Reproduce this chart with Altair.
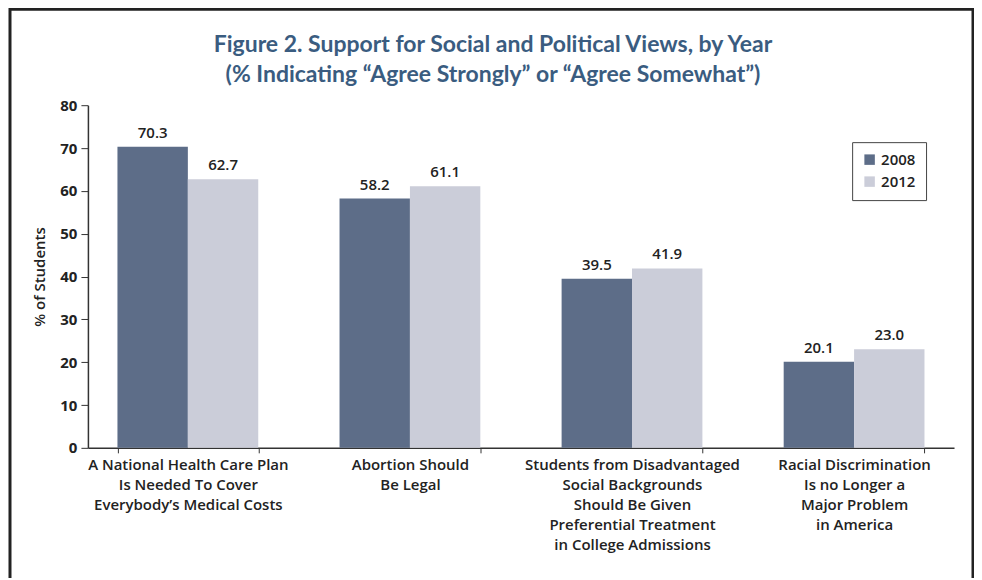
import altair as alt
import pandas as pd

categories = [
    "A National Health Care Plan|Is Needed To Cover|Everybody\u2019s Medical Costs",
    "Abortion Should|Be Legal",
    "Students from Disadvantaged|Social Backgrounds|Should Be Given|Preferential Treatment|in College Admissions",
    "Racial Discrimination|Is no Longer a|Major Problem|in America",
]
years = ["2008", "2012"]
values_2008 = [70.3, 58.2, 39.5, 20.1]
values_2012 = [62.7, 61.1, 41.9, 23.0]
y_ticks = [0, 10, 20, 30, 40, 50, 60, 70, 80]

rows = []
for c, a, b in zip(categories, values_2008, values_2012):
    rows.append({"cat": c, "year": "2008", "value": a})
    rows.append({"cat": c, "year": "2012", "value": b})
df = pd.DataFrame(rows)

FONT = "Open Sans"
WEIGHT = 600
TITLE_FONT = "Lato"
DARK = "#5d6d88"
LIGHT = "#cbcdd9"
AXIS = "#333333"
TXT = "#222222"

x_enc = alt.X(
    "cat:N",
    sort=categories,
    scale=alt.Scale(paddingInner=0.366, paddingOuter=0.133),
    axis=alt.Axis(
        title=None,
        labelAngle=0,
        labelExpr="split(datum.label, '|')",
        labelFont=FONT,
        labelFontSize=15,
        labelFontWeight=WEIGHT,
        labelColor=TXT,
        labelLineHeight=20,
        labelPadding=5,
        labelBaseline="top",
        tickBand="extent",
        tickSize=5,
        tickColor=AXIS,
        domainColor=AXIS,
        domainWidth=1.5,
        labelLimit=400,
    ),
)
y_enc = alt.Y(
    "value:Q",
    scale=alt.Scale(domain=[0, 80], nice=False),
    axis=alt.Axis(
        title="% of Students",
        values=y_ticks,
        titleFont=FONT,
        titleFontSize=15,
        titleFontWeight=WEIGHT,
        titleColor=TXT,
        titlePadding=12,
        labelFont=FONT,
        labelFontSize=15,
        labelFontWeight="bold",
        labelColor=TXT,
        labelPadding=4,
        tickSize=7,
        tickColor=AXIS,
        domainColor=AXIS,
        domainWidth=1.5,
        grid=False,
    ),
)

base = alt.Chart(df).encode(x=x_enc, xOffset=alt.XOffset("year:N", sort=years))

bars = base.mark_bar().encode(
    y=y_enc,
    color=alt.Color(
        "year:N",
        scale=alt.Scale(domain=years, range=[DARK, LIGHT]),
        legend=alt.Legend(
            title=None,
            orient="none",
            legendX=765,
            legendY=37,
            strokeColor="#444444",
            padding=10,
            symbolType="square",
            symbolSize=110,
            symbolStrokeWidth=0,
            labelFont=FONT,
            labelFontSize=15,
            labelFontWeight=WEIGHT,
            labelColor=TXT,
            rowPadding=6,
            fillColor="white",
        ),
    ),
)

labels = base.mark_text(
    baseline="bottom", dy=-6, font=FONT, fontSize=15, fontWeight=WEIGHT, color=TXT
).encode(y="value:Q", text=alt.Text("value:Q", format=".1f"))

frame = alt.Chart(alt.Data(values=[{}])).mark_rect(
    fill=None, stroke="#222222", strokeWidth=3
).encode(
    x=alt.value(-78), x2=alt.value(886), y=alt.value(-96), y2=alt.value(520)
)

chart = alt.layer(frame, bars, labels).properties(
    width=867,
    height=343,
    padding={"left": 80, "top": 97, "right": 20, "bottom": 130},
    autosize=alt.AutoSizeParams(type="none"),
    title=alt.TitleParams(
        text=["Figure 2. Support for Social and Political Views, by Year",
              "(% Indicating \u201cAgree Strongly\u201d or \u201cAgree Somewhat\u201d)"],
        font=TITLE_FONT,
        fontSize=23,
        fontWeight="bold",
        color="#3a5c80",
        lineHeight=30,
        anchor="middle",
        dx=-28,
        offset=-79,
    ),
).configure_view(stroke=None)

chart.save("out.html", embed_options={"renderer": "svg", "actions": False})
